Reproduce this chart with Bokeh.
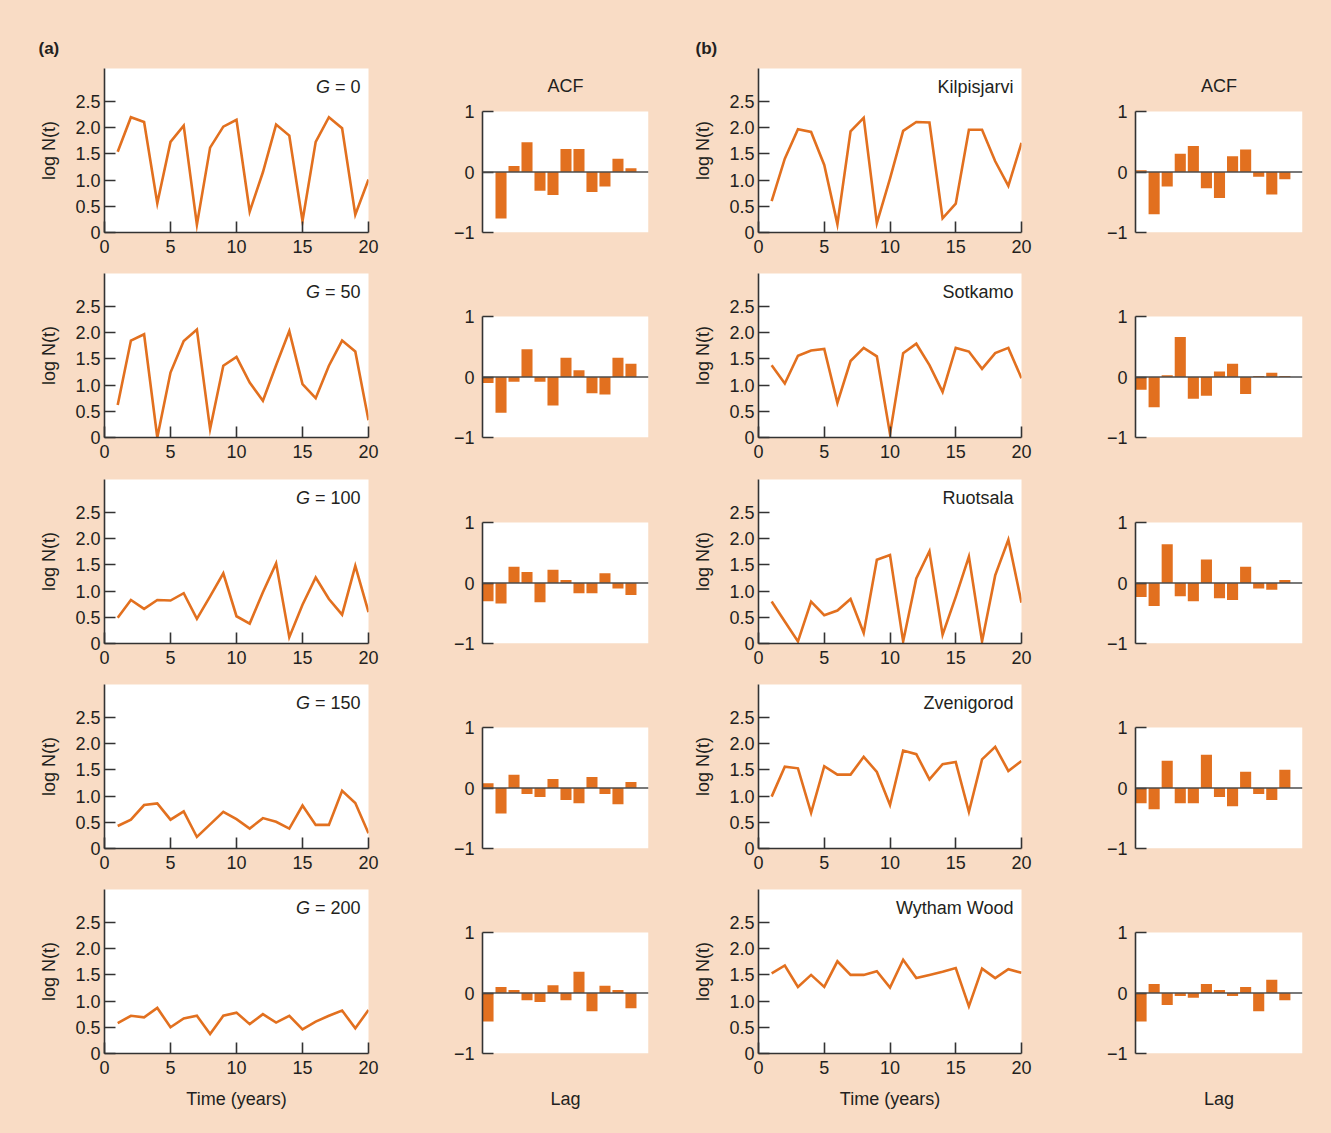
import math
from bokeh.plotting import figure
from bokeh.layouts import column, row
from bokeh.models import Label, Span, FixedTicker, Range1d, CustomJSTickFormatter, BoxAnnotation
from bokeh.embed import file_html
from bokeh.resources import INLINE

# ---------------- data ----------------
years = list(range(1, 21))
lags = list(range(1, 13))

g_labels = ["0", "50", "100", "150", "200"]
sites = ["Kilpisjarvi", "Sotkamo", "Ruotsala", "Zvenigorod", "Wytham Wood"]

g0 = [1.54, 2.20, 2.11, 0.56, 1.73, 2.04, 0.15, 1.62, 2.02, 2.15, 0.40, 1.15, 2.06, 1.85, 0.22, 1.73, 2.20, 1.99, 0.34, 1.01]
g50 = [0.62, 1.85, 1.97, 0.00, 1.24, 1.84, 2.06, 0.16, 1.37, 1.54, 1.05, 0.70, 1.38, 2.03, 1.02, 0.75, 1.37, 1.85, 1.64, 0.33]
g100 = [0.49, 0.83, 0.66, 0.83, 0.82, 0.96, 0.47, 0.90, 1.34, 0.52, 0.38, 0.98, 1.53, 0.12, 0.74, 1.26, 0.85, 0.55, 1.48, 0.60]
g150 = [0.43, 0.55, 0.83, 0.86, 0.55, 0.71, 0.22, 0.46, 0.70, 0.56, 0.38, 0.58, 0.51, 0.38, 0.82, 0.45, 0.45, 1.10, 0.87, 0.29]
g200 = [0.58, 0.72, 0.69, 0.87, 0.50, 0.67, 0.72, 0.37, 0.72, 0.78, 0.56, 0.75, 0.59, 0.72, 0.46, 0.61, 0.72, 0.82, 0.48, 0.83]

kilpisjarvi = [0.60, 1.41, 1.97, 1.92, 1.29, 0.16, 1.93, 2.19, 0.18, 1.03, 1.94, 2.11, 2.10, 0.27, 0.55, 1.96, 1.96, 1.36, 0.89, 1.71]
sotkamo = [1.38, 1.03, 1.56, 1.66, 1.69, 0.66, 1.46, 1.71, 1.55, 0.07, 1.61, 1.79, 1.38, 0.87, 1.71, 1.64, 1.31, 1.61, 1.71, 1.13]
ruotsala = [0.80, 0.42, 0.04, 0.80, 0.54, 0.63, 0.85, 0.20, 1.60, 1.69, 0.04, 1.24, 1.76, 0.17, 0.89, 1.66, 0.04, 1.30, 1.98, 0.78]
zvenigorod = [0.99, 1.56, 1.53, 0.68, 1.57, 1.41, 1.41, 1.75, 1.46, 0.83, 1.87, 1.80, 1.32, 1.61, 1.65, 0.70, 1.70, 1.94, 1.48, 1.67]
wytham = [1.53, 1.68, 1.27, 1.50, 1.27, 1.76, 1.50, 1.50, 1.57, 1.26, 1.79, 1.44, 1.50, 1.56, 1.63, 0.90, 1.62, 1.44, 1.61, 1.54]

acf_g0 = [0.00, -0.77, 0.10, 0.49, -0.31, -0.38, 0.38, 0.38, -0.33, -0.24, 0.22, 0.06]
acf_g50 = [-0.10, -0.59, -0.08, 0.46, -0.08, -0.47, 0.32, 0.11, -0.27, -0.29, 0.32, 0.22]
acf_g100 = [-0.30, -0.34, 0.27, 0.18, -0.32, 0.22, 0.05, -0.17, -0.17, 0.16, -0.09, -0.20]
acf_g150 = [0.08, -0.42, 0.22, -0.10, -0.15, 0.15, -0.20, -0.25, 0.18, -0.10, -0.27, 0.10]
acf_g200 = [-0.47, 0.10, 0.05, -0.12, -0.15, 0.13, -0.12, 0.35, -0.30, 0.12, 0.05, -0.25]

acf_kilpisjarvi = [0.03, -0.70, -0.24, 0.30, 0.43, -0.27, -0.43, 0.26, 0.37, -0.08, -0.37, -0.12]
acf_sotkamo = [-0.21, -0.50, 0.03, 0.66, -0.36, -0.31, 0.09, 0.22, -0.28, 0.015, 0.07, 0.015]
acf_ruotsala = [-0.23, -0.38, 0.64, -0.22, -0.30, 0.39, -0.25, -0.28, 0.27, -0.09, -0.11, 0.05]
acf_zvenigorod = [-0.25, -0.35, 0.45, -0.25, -0.25, 0.55, -0.15, -0.30, 0.27, -0.10, -0.20, 0.30]
acf_wytham = [-0.47, 0.15, -0.20, -0.05, -0.08, 0.15, 0.05, -0.05, 0.10, -0.30, 0.22, -0.12]

ytick_vals = [0, 0.5, 1.0, 1.5, 2.0, 2.5]
ytick_labels = ["0", "0.5", "1.0", "1.5", "2.0", "2.5"]
xtick_vals = [0, 5, 10, 15, 20]
acf_tick_vals = [-1, 0, 1]
acf_tick_labels = ["\u22121", "0", "1"]

series_a = [g0, g50, g100, g150, g200]
series_b = [kilpisjarvi, sotkamo, ruotsala, zvenigorod, wytham]
acf_a = [acf_g0, acf_g50, acf_g100, acf_g150, acf_g200]
acf_b = [acf_kilpisjarvi, acf_sotkamo, acf_ruotsala, acf_zvenigorod, acf_wytham]

# ---------------- style / layout ----------------
PEACH = "#F9DCC5"
ORANGE = "#E2701F"
TXT = "#231F20"
AX = "#333333"
FONT = "Liberation Sans"
FS = "18px"
FSN = 18

YMAX = 3.13
ROW_H = [262, 206, 205, 205, 255]
TOP_B = [68, 11, 11, 11, 11]
LINE_FH = 164
ACF_DROP = 43
ACF_H = LINE_FH - ACF_DROP
ACF_YMAX = 1 + ACF_DROP * 2.0 / ACF_H

COL_LINE_A = (420, 104, 52)
COL_ACF_A = (270, 62, 42)
COL_LINE_B = (395, 67, 64)
COL_ACF_B = (246, 50, 29)

CW = {'l': 0.222, 'o': 0.556, 'g': 0.556, ' ': 0.278, 'N': 0.722, '(': 0.333,
      't': 0.278, ')': 0.333, 'G': 0.778, '=': 0.584}


def tw(s, size=FSN):
    return sum(CW.get(c, 0.556) for c in s) * size


def style_axis(ax, standoff=5):
    ax.axis_line_color = AX
    ax.axis_line_width = 1.6
    ax.major_tick_line_color = AX
    ax.major_tick_line_width = 1.6
    ax.major_tick_in = 11
    ax.major_tick_out = 0
    ax.minor_tick_line_color = None
    ax.major_label_text_font = FONT
    ax.major_label_text_font_size = FS
    ax.major_label_text_color = TXT
    ax.major_label_standoff = standoff
    ax.axis_label_text_font = FONT
    ax.axis_label_text_font_size = FS
    ax.axis_label_text_font_style = "normal"
    ax.axis_label_text_color = TXT


def base_fig(k, col, rng_x, rng_y, title=None, bg="white"):
    w, lb, rb = col
    h = ROW_H[k]
    tb = TOP_B[k]
    bb = h - tb - LINE_FH
    p = figure(width=w, height=h, x_range=rng_x, y_range=rng_y,
               output_backend="svg", toolbar_location=None, title=title,
               min_border_left=lb, min_border_right=rb, min_border_top=tb, min_border_bottom=bb,
               background_fill_color=bg, border_fill_color=PEACH, outline_line_color=None)
    p.grid.visible = False
    return p


def make_line(ys, k, col, heading=None, heading_offset=0, g_label=None, site=None):
    p = base_fig(k, col, Range1d(0, 20), Range1d(0, YMAX), title=heading)
    p.line(years, ys, line_color=ORANGE, line_width=2.6, line_join="miter")
    xa = p.xaxis[0]
    ya = p.yaxis[0]
    style_axis(xa, 7)
    style_axis(ya, 4)
    xa.ticker = FixedTicker(ticks=xtick_vals)
    ya.ticker = FixedTicker(ticks=ytick_vals)
    ya.formatter = CustomJSTickFormatter(args=dict(vals=ytick_vals, labs=ytick_labels),
                                         code="const i = vals.indexOf(tick); return i >= 0 ? labs[i] : String(tick);")
    ya.axis_label = "log N(t)"
    ya.axis_label_standoff = 13
    if k == 4:
        xa.axis_label = "Time (years)"
        xa.axis_label_standoff = 12
    if heading is not None:
        p.title.text_font = FONT
        p.title.text_font_size = "17px"
        p.title.text_font_style = "bold"
        p.title.text_color = TXT
        p.title.align = "left"
        p.title.offset = heading_offset
        p.title.standoff = 22
    ppu = LINE_FH / YMAX
    ylab = YMAX - 18 / ppu
    if g_label is not None:
        pcs = [("G", "italic"), ("= " + g_label, "normal")]
        W = tw("G = " + g_label)
        offs = [0.0, tw("G ")]
        for (s, st), o in zip(pcs, offs):
            p.add_layout(Label(x=20, y=ylab, x_offset=-8 - W + o, text=s, text_font=FONT,
                               text_font_size=FS, text_font_style=st, text_color=TXT,
                               text_align="left", text_baseline="middle"))
    if site is not None:
        p.add_layout(Label(x=20, y=ylab, x_offset=-8, text=site, text_font=FONT, text_font_size=FS,
                           text_color=TXT, text_align="right", text_baseline="middle"))
    return p


def make_acf(vals, k, col):
    p = base_fig(k, col, Range1d(0.575, 13.35), Range1d(-1, ACF_YMAX), bg=PEACH)
    p.add_layout(BoxAnnotation(bottom=-1, top=1, fill_color="white", fill_alpha=1.0,
                               line_color=None, level="underlay"))
    p.vbar(x=lags, top=vals, bottom=0, width=0.85, fill_color=ORANGE, line_color=None)
    p.add_layout(Span(location=0, dimension="width", line_color="#4d4d4d", line_width=1.6))
    ya = p.yaxis[0]
    style_axis(ya, 8)
    ya.bounds = (-1, 1)
    ya.ticker = FixedTicker(ticks=acf_tick_vals)
    ya.formatter = CustomJSTickFormatter(args=dict(vals=acf_tick_vals, labs=acf_tick_labels),
                                         code="const i = vals.indexOf(tick); return i >= 0 ? labs[i] : String(tick);")
    xa = p.xaxis[0]
    if k == 4:
        style_axis(xa)
        xa.ticker = FixedTicker(ticks=[])
        xa.axis_line_color = None
        xa.major_tick_line_color = None
        xa.axis_label = "Lag"
        xa.axis_label_standoff = 35
    else:
        xa.visible = False
    if k == 0:
        p.add_layout(Label(x=(0.575 + 13.35) / 2, y=1 + 26 * 2.0 / ACF_H, text="ACF", text_font=FONT,
                           text_font_size=FS, text_color=TXT, text_align="center",
                           text_baseline="middle"))
    return p


rows = []
for k in range(5):
    fa = make_line(series_a[k], k, COL_LINE_A, heading=("(a)" if k == 0 else None),
                   heading_offset=-66, g_label=g_labels[k])
    fb = make_acf(acf_a[k], k, COL_ACF_A)
    fc = make_line(series_b[k], k, COL_LINE_B, heading=("(b)" if k == 0 else None),
                   heading_offset=-63, site=sites[k])
    fd = make_acf(acf_b[k], k, COL_ACF_B)
    rows.append(row(fa, fb, fc, fd, spacing=0))

layout = column(*rows, spacing=0, styles={"background-color": PEACH})

open("out.html", "w").write(file_html(layout, INLINE))
